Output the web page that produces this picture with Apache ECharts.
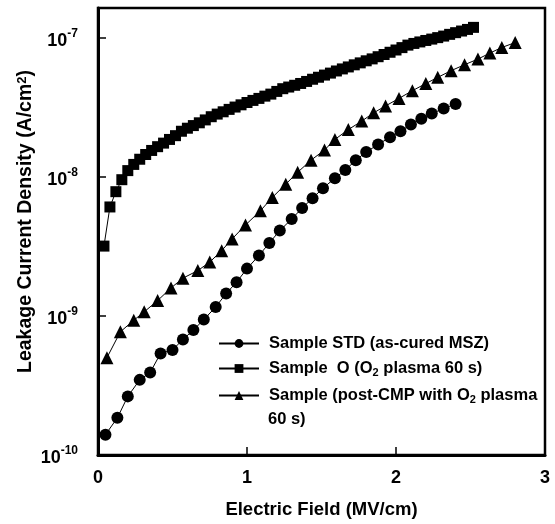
<!DOCTYPE html>
<html>
<head>
<meta charset="utf-8">
<script src="https://cdn.jsdelivr.net/npm/echarts@6/dist/echarts.min.js"></script>
<style>html,body{margin:0;padding:0;background:#fff}#c{width:555px;height:524px}</style>
</head>
<body>
<div id="c"></div>
<script>
// Sample STD (as-cured MSZ) - circles
var stdX = [0.05,0.13,0.20,0.28,0.35,0.42,0.50,0.57,0.64,0.71,0.79,0.86,0.93,1.00,1.08,1.15,1.22,1.30,1.37,1.44,1.51,1.59,1.66,1.73,1.80,1.88,1.96,2.03,2.10,2.17,2.24,2.32,2.40];
var stdY = [1.40e-10,1.85e-10,2.64e-10,3.47e-10,3.92e-10,5.38e-10,5.69e-10,6.78e-10,7.91e-10,9.42e-10,1.16e-9,1.45e-9,1.75e-9,2.19e-9,2.72e-9,3.35e-9,4.11e-9,4.98e-9,5.97e-9,7.03e-9,8.30e-9,9.79e-9,1.12e-8,1.32e-8,1.51e-8,1.71e-8,1.93e-8,2.13e-8,2.38e-8,2.62e-8,2.86e-8,3.10e-8,3.35e-8];
// Sample O (O2 plasma 60 s) - squares
var oX = [0.04,0.08,0.12,0.16,0.20,0.24,0.28,0.32,0.36,0.40,0.44,0.48,0.52,0.56,0.60,0.64,0.68,0.72,0.76,0.80,0.84,0.88,0.92,0.96,1.00,1.04,1.08,1.12,1.16,1.20,1.24,1.28,1.32,1.36,1.40,1.44,1.48,1.52,1.56,1.60,1.64,1.68,1.72,1.76,1.80,1.84,1.88,1.92,1.96,2.00,2.04,2.08,2.12,2.16,2.20,2.24,2.28,2.32,2.36,2.40,2.44,2.48,2.52];
var oY = [3.18e-9,6.08e-9,7.83e-9,9.55e-9,1.11e-8,1.23e-8,1.34e-8,1.45e-8,1.55e-8,1.65e-8,1.75e-8,1.86e-8,1.98e-8,2.13e-8,2.24e-8,2.34e-8,2.45e-8,2.57e-8,2.71e-8,2.83e-8,2.94e-8,3.06e-8,3.18e-8,3.30e-8,3.43e-8,3.55e-8,3.67e-8,3.81e-8,3.94e-8,4.12e-8,4.31e-8,4.43e-8,4.56e-8,4.70e-8,4.86e-8,5.04e-8,5.21e-8,5.40e-8,5.58e-8,5.78e-8,5.98e-8,6.18e-8,6.40e-8,6.61e-8,6.84e-8,7.06e-8,7.32e-8,7.59e-8,7.88e-8,8.18e-8,8.51e-8,8.87e-8,9.12e-8,9.35e-8,9.58e-8,9.80e-8,1.004e-7,1.03e-7,1.06e-7,1.09e-7,1.12e-7,1.15e-7,1.19e-7];
// Sample (post-CMP with O2 plasma 60 s) - triangles
var cmpX = [0.06,0.15,0.24,0.31,0.40,0.49,0.57,0.67,0.75,0.83,0.90,0.99,1.09,1.17,1.26,1.34,1.43,1.52,1.59,1.68,1.77,1.85,1.93,2.02,2.11,2.20,2.28,2.37,2.46,2.55,2.63,2.71,2.80];
var cmpY = [5.01e-10,7.69e-10,9.31e-10,1.07e-9,1.29e-9,1.59e-9,1.87e-9,2.12e-9,2.44e-9,2.95e-9,3.58e-9,4.51e-9,5.71e-9,7.12e-9,8.87e-9,1.08e-8,1.32e-8,1.56e-8,1.86e-8,2.19e-8,2.52e-8,2.89e-8,3.24e-8,3.67e-8,4.17e-8,4.69e-8,5.20e-8,5.81e-8,6.41e-8,7.04e-8,7.77e-8,8.53e-8,9.25e-8];

var xTicks = [0, 1, 2, 3];
var seriesNames = ['Sample STD (as-cured MSZ)', 'Sample  O (O2 plasma 60 s)', 'Sample (post-CMP with O2 plasma 60 s)'];

function zip(a, b) { return a.map(function (v, i) { return [v, b[i]]; }); }

var FONT = '"Liberation Sans", Arial, sans-serif';
var legendRich = {
  n: { fontFamily: FONT, fontSize: 16.5, fontWeight: 'bold', color: '#000', lineHeight: 20 },
  sub: { fontFamily: FONT, fontSize: 11, fontWeight: 'bold', color: '#000', lineHeight: 10, verticalAlign: 'bottom' }
};
var legendLabels = {};
legendLabels[seriesNames[0]] = '{n|Sample STD (as-cured MSZ)}';
legendLabels[seriesNames[1]] = '{n|Sample  O (O}{sub|2}{n| plasma 60 s)}';
legendLabels[seriesNames[2]] = '{n|Sample (post-CMP with O}{sub|2}{n| plasma}';

function legendFor(name, top) {
  return {
    data: [name], left: 218, top: top, padding: 0, selectedMode: false,
    itemWidth: 40, itemHeight: 11, itemGap: 0,
    formatter: function (n) { return legendLabels[n]; },
    textStyle: { rich: legendRich, padding: [0, 0, 0, 5] }
  };
}

var chart = echarts.init(document.getElementById('c'), null, { renderer: 'canvas' });
var common = { type: 'line', lineStyle: { color: '#000', width: 1 }, itemStyle: { color: '#000' }, emphasis: { disabled: true }, animation: false };
chart.setOption({
  backgroundColor: '#fff',
  animation: false,
  grid: { left: 98, right: 10, top: 8, bottom: 66, show: true, borderColor: '#000', borderWidth: 2.5 },
  legend: [legendFor(seriesNames[0], 335), legendFor(seriesNames[1], 360), legendFor(seriesNames[2], 387)],
  graphic: [{ type: 'text', left: 268, top: 411, style: { text: '60 s)', font: 'bold 16.5px ' + FONT, fill: '#000' } }],
  xAxis: {
    type: 'value', min: xTicks[0], max: xTicks[xTicks.length - 1], interval: 1,
    name: 'Electric Field (MV/cm)', nameLocation: 'middle', nameGap: 45, nameMoveOverlap: false,
    nameTextStyle: { fontFamily: FONT, fontSize: 18.5, fontWeight: 'bold', color: '#000' },
    axisLine: { lineStyle: { color: '#000', width: 3 } },
    axisTick: { inside: true, length: 8, lineStyle: { color: '#000', width: 1.5 } },
    axisLabel: { margin: 14, fontFamily: FONT, fontSize: 18, fontWeight: 'bold', color: '#000' },
    splitLine: { show: false }
  },
  yAxis: {
    type: 'log', logBase: 10, min: 1e-10, max: 1.64e-7,
    name: 'Leakage Current Density (A/cm{sup|2})', nameLocation: 'middle', nameGap: 62, nameMoveOverlap: false,
    nameTextStyle: {
      fontFamily: FONT, fontSize: 19.5, fontWeight: 'bold', color: '#000', padding: [0, 0, 0, 20],
      rich: { sup: { fontFamily: FONT, fontSize: 13, fontWeight: 'bold', color: '#000', verticalAlign: 'top', lineHeight: 10 } }
    },
    axisLine: { lineStyle: { color: '#000', width: 3 } },
    axisTick: { inside: true, length: 8, lineStyle: { color: '#000', width: 1.5 } },
    axisLabel: {
      margin: 20, showMaxLabel: false,
      formatter: function (v) {
        var l = Math.log10(v), e = Math.round(l);
        if (Math.abs(l - e) > 0.01) return '';
        return '{b|10}{s|' + e + '}';
      },
      rich: {
        b: { fontFamily: FONT, fontSize: 18, fontWeight: 'bold', color: '#000', lineHeight: 20, padding: [6, 0, 0, 0] },
        s: { fontFamily: FONT, fontSize: 12, fontWeight: 'bold', color: '#000', lineHeight: 12, verticalAlign: 'top' }
      }
    },
    splitLine: { show: false }
  },
  series: [
    Object.assign({}, common, { name: seriesNames[0], symbol: 'circle', symbolSize: 12, data: zip(stdX, stdY) }),
    Object.assign({}, common, { name: seriesNames[1], symbol: 'rect', symbolSize: 11, data: zip(oX, oY) }),
    Object.assign({}, common, { name: seriesNames[2], symbol: 'triangle', symbolSize: 13, data: zip(cmpX, cmpY) })
  ]
});
</script>
</body>
</html>
